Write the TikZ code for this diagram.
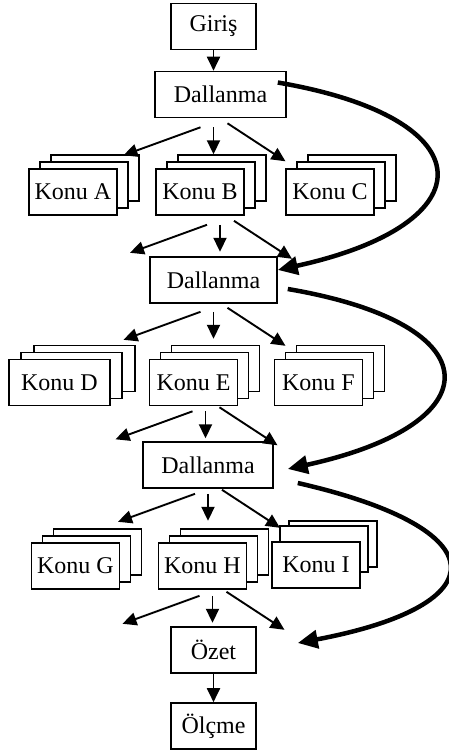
\documentclass[tikz,border=0pt]{standalone}
\usepackage{fontspec}
\setmainfont{Liberation Serif}
\usetikzlibrary{arrows.meta,calc}

\tikzset{
  box/.style={draw, line width=1.6pt, fill=white, inner sep=0pt,
    minimum width=85pt, minimum height=46pt, font=\fontsize{24}{28}\selectfont},
  dalbox/.style={box, minimum width=130pt},
  konubox/.style={box, minimum width=88pt},
  arr/.style={line width=1.9pt, -{Triangle[length=14pt,width=13pt]}},
  bigarr/.style={line width=4.5pt, -{Triangle[length=20pt,width=18pt]}},
}

% three stacked sheets: name, centre, label, back shift, middle shift
\newcommand\konu[6][]{%
  \node[konubox,#1] (#2-3) at ($(#3)+(#5)$) {};
  \node[konubox,#1] (#2-2) at ($(#3)+(#6)$) {};
  \node[konubox,#1] (#2) at (#3) {#4};
}
% three arrows spreading out from a hub
\newcommand\fan[1]{%
  \draw[arr] ([xshift=-13pt]#1) -- ++(-77,28);
  \draw[arr] (#1) -- ++(0,27);
  \draw[arr] ([shift={(14,-4)}]#1) -- ++(58,38);
}

\begin{document}
\begin{tikzpicture}[x=1pt,y=-1pt]
  \useasboundingbox (0,0) rectangle (449,756);

  \node[box] (giris) at (213.5,26.5) {Giriş};
  \node[dalbox, minimum width=131pt] (d1) at (220.5,94.5) {Dallanma};
  \draw[arr] (giris.south) -- (giris.south |- d1.north);

  \konu{a}{73,192}{Konu A}{22,-14}{11,-7}
  \konu{b}{200,192}{Konu B}{22,-14}{11,-7}
  \konu{c}{330,192}{Konu C}{22,-14}{11,-7}

  \node[dalbox, minimum width=127pt] (d2) at (213.5,280) {Dallanma};

  \konu[minimum width=101pt]{d}{59.5,382.5}{Konu D}{25,-14}{12,-7}
  \konu{e}{193.5,382.5}{Konu E}{22,-14}{11,-7}
  \konu{f}{318.5,382.5}{Konu F}{22,-14}{11,-7}

  \node[dalbox] (d3) at (208,465) {Dallanma};

  \konu{g}{75.5,566}{Konu G}{22,-14}{11,-7}
  \konu{h}{202.5,566}{Konu H}{22,-14}{11,-7}
  \konu{i}{316,565}{Konu I}{17,-21}{8,-16}

  \node[box] (ozet) at (213.5,650) {Özet};
  \node[box] (olcme) at (213.5,726) {Ölçme};
  \draw[arr] (ozet) -- (olcme);

  % hubs under each box
  \coordinate (h1) at ([shift={(-7,9)}]d1.south);
  \coordinate (h2) at ([shift={(20,9)}]b.south);
  \coordinate (h3) at ([shift={(0,8)}]d2.south);
  \coordinate (h4) at ([shift={(12,5)}]e.south);
  \coordinate (h5) at ([shift={(0,5)}]d3.south);
  \coordinate (h6) at ([shift={(10,6)}]h.south);
  \foreach \h in {h1,h2,h3,h4,h5,h6} {\fan{\h}}

  % skipping paths
  \draw[bigarr] ([shift={(-9,-12)}]d1.east) .. controls +(210,36) and +(210,-46) .. ([yshift=10pt]d2.east);
  \draw[bigarr] ([shift={(10,9)}]d2.east) .. controls +(206,35) and +(206,-45) .. ([shift={(14,4)}]d3.east);
  \draw[bigarr] ([shift={(24,18)}]d3.east) .. controls +(201,46) and +(201,-38) .. ([shift={(41,-7)}]ozet.east);
\end{tikzpicture}
\end{document}
